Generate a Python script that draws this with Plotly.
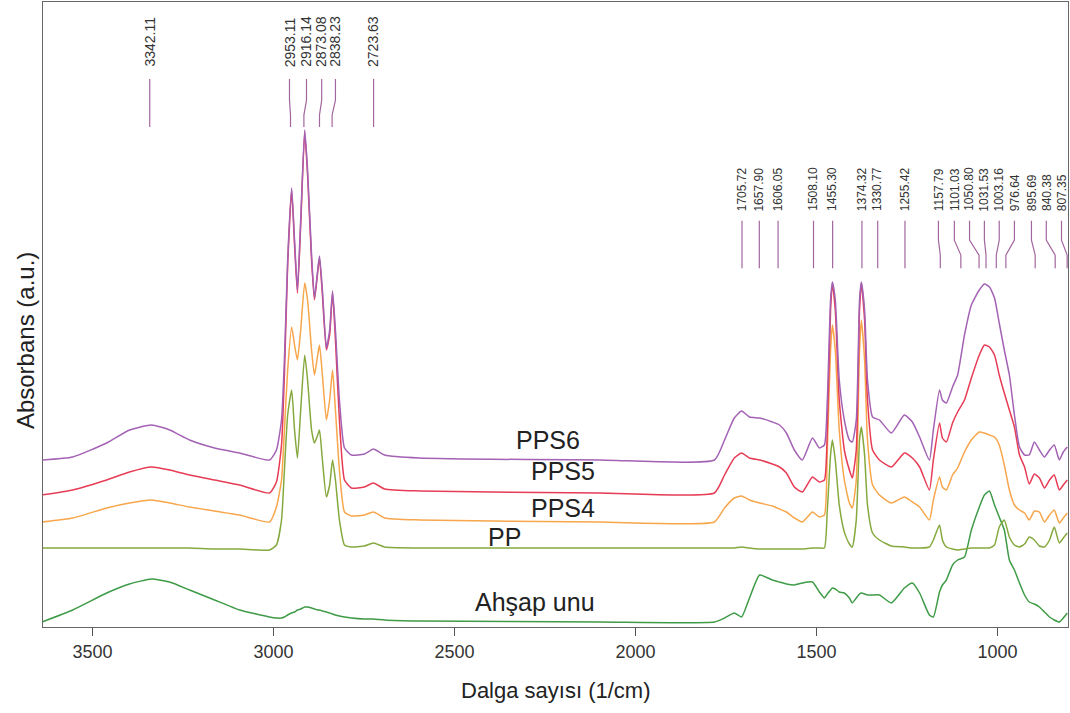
import plotly.graph_objects as go

# ---------------- data (absorbance, arbitrary units, vertically offset spectra) ----------------
WAVENUMBER = [3640, 3555, 3461, 3398, 3337, 3287, 3232, 3163, 3094, 3011, 2992, 2978, 2970, 2961,
              2950, 2942, 2934, 2925, 2914, 2906, 2895, 2887, 2878, 2873, 2865, 2854, 2845, 2837,
              2829, 2818, 2804, 2785, 2749, 2724, 2693, 2597, 2099, 1782, 1754, 1727, 1707, 1685,
              1657, 1622, 1602, 1583, 1561, 1539, 1511, 1492, 1478, 1470, 1461, 1456, 1448, 1437,
              1423, 1409, 1401, 1390, 1381, 1376, 1367, 1359, 1345, 1326, 1293, 1257, 1235, 1215,
              1188, 1177, 1160, 1152, 1141, 1124, 1110, 1091, 1072, 1050, 1036, 1022, 1008, 995,
              981, 967, 953, 939, 925, 912, 898, 884, 870, 856, 843, 829, 818, 807]

PPS6 = [1.67, 1.70, 1.84, 1.97, 2.02, 1.97, 1.87, 1.79, 1.74, 1.67, 1.77, 2.07, 2.67, 3.67,
        4.39, 3.87, 3.37, 4.07, 4.97, 4.57, 3.72, 3.29, 3.57, 3.71, 3.37, 2.79, 2.97, 3.36,
        2.97, 2.27, 1.79, 1.72, 1.73, 1.78, 1.72, 1.69, 1.67, 1.67, 1.87, 2.09, 2.16, 2.10,
        2.09, 2.05, 2.02, 1.94, 1.77, 1.67, 1.89, 1.79, 1.82, 2.27, 3.27, 3.45, 3.27, 2.47,
        2.07, 1.87, 1.85, 2.07, 3.27, 3.45, 3.17, 2.47, 2.10, 2.07, 1.94, 2.12, 2.05, 1.90,
        1.67, 1.97, 2.37, 2.27, 2.24, 2.40, 2.52, 2.92, 3.22, 3.37, 3.43, 3.40, 3.29, 3.04,
        2.77, 2.52, 2.12, 1.80, 1.72, 1.72, 1.85, 1.77, 1.70, 1.77, 1.82, 1.67, 1.75, 1.80]

PPS5 = [1.32, 1.37, 1.47, 1.55, 1.60, 1.57, 1.52, 1.47, 1.42, 1.34, 1.45, 1.82, 2.52, 3.62,
        4.37, 3.82, 3.34, 4.02, 4.95, 4.52, 3.67, 3.27, 3.55, 3.69, 3.32, 2.77, 2.92, 3.34,
        2.87, 2.07, 1.47, 1.39, 1.40, 1.44, 1.38, 1.36, 1.34, 1.34, 1.52, 1.69, 1.74, 1.69,
        1.67, 1.63, 1.60, 1.54, 1.40, 1.35, 1.50, 1.45, 1.47, 1.97, 3.17, 3.44, 3.17, 2.27,
        1.77, 1.57, 1.49, 1.77, 3.17, 3.44, 3.07, 2.27, 1.77, 1.67, 1.60, 1.74, 1.69, 1.60,
        1.37, 1.67, 2.04, 1.89, 1.85, 2.04, 2.15, 2.27, 2.49, 2.72, 2.82, 2.80, 2.72, 2.52,
        2.34, 2.17, 2.00, 1.72, 1.60, 1.43, 1.53, 1.49, 1.39, 1.47, 1.52, 1.37, 1.42, 1.47]

PPS4 = [1.05, 1.09, 1.19, 1.24, 1.27, 1.24, 1.20, 1.16, 1.12, 1.05, 1.20, 1.47, 1.97, 2.57,
        3.00, 2.82, 2.67, 2.97, 3.44, 3.27, 2.77, 2.52, 2.72, 2.82, 2.52, 2.07, 2.27, 2.57,
        2.17, 1.57, 1.15, 1.11, 1.12, 1.15, 1.09, 1.07, 1.05, 1.05, 1.19, 1.29, 1.31, 1.27,
        1.24, 1.21, 1.18, 1.15, 1.09, 1.05, 1.15, 1.10, 1.12, 1.77, 2.77, 3.02, 2.77, 1.97,
        1.47, 1.24, 1.19, 1.47, 2.77, 3.07, 2.67, 1.87, 1.42, 1.32, 1.24, 1.30, 1.25, 1.20,
        1.07, 1.27, 1.50, 1.40, 1.37, 1.52, 1.59, 1.75, 1.87, 1.95, 1.94, 1.92, 1.90, 1.82,
        1.62, 1.37, 1.22, 1.17, 1.14, 1.07, 1.16, 1.15, 1.05, 1.12, 1.17, 1.04, 1.09, 1.14]

PP = [0.79, 0.79, 0.79, 0.79, 0.79, 0.79, 0.79, 0.78, 0.78, 0.77, 0.82, 1.07, 1.57, 2.12,
      2.37, 1.97, 1.69, 2.17, 2.72, 2.47, 1.97, 1.84, 1.92, 1.97, 1.67, 1.30, 1.42, 1.67,
      1.47, 1.07, 0.82, 0.80, 0.81, 0.84, 0.80, 0.79, 0.79, 0.79, 0.79, 0.79, 0.80, 0.79,
      0.78, 0.78, 0.78, 0.78, 0.78, 0.78, 0.79, 0.79, 0.79, 1.17, 1.72, 1.87, 1.67, 1.22,
      0.95, 0.83, 0.80, 1.07, 1.87, 2.00, 1.72, 1.22, 0.94, 0.87, 0.81, 0.80, 0.79, 0.79,
      0.80, 0.87, 1.02, 0.87, 0.80, 0.78, 0.77, 0.78, 0.79, 0.79, 0.79, 0.79, 0.82, 1.00,
      1.07, 0.90, 0.82, 0.80, 0.83, 0.90, 0.87, 0.81, 0.80, 0.87, 1.00, 0.84, 0.89, 0.94]

AHSAP_UNU = [0.05, 0.17, 0.34, 0.43, 0.48, 0.45, 0.37, 0.27, 0.17, 0.10, 0.09, 0.09, 0.10, 0.12,
             0.14, 0.15, 0.17, 0.18, 0.20, 0.20, 0.19, 0.18, 0.17, 0.17, 0.16, 0.15, 0.14, 0.13,
             0.12, 0.11, 0.10, 0.09, 0.08, 0.08, 0.07, 0.06, 0.05, 0.05, 0.09, 0.14, 0.10, 0.29,
             0.52, 0.47, 0.45, 0.43, 0.42, 0.44, 0.45, 0.35, 0.29, 0.33, 0.37, 0.39, 0.38, 0.35,
             0.34, 0.29, 0.24, 0.29, 0.33, 0.34, 0.33, 0.32, 0.32, 0.32, 0.24, 0.39, 0.44, 0.34,
             0.12, 0.10, 0.35, 0.42, 0.47, 0.62, 0.67, 0.70, 0.97, 1.20, 1.32, 1.36, 1.22, 1.10,
             0.97, 0.67, 0.57, 0.44, 0.32, 0.25, 0.23, 0.20, 0.15, 0.10, 0.07, 0.05, 0.09, 0.14]

SERIES_NAMES = ["Ahşap unu", "PP", "PPS4", "PPS5", "PPS6"]

PEAKS_HIGH = [3342.11, 2953.11, 2916.14, 2873.08, 2838.23, 2723.63]
PEAKS_LOW = [1705.72, 1657.90, 1606.05, 1508.10, 1455.30, 1374.32, 1330.77, 1255.42, 1157.79,
             1101.03, 1050.80, 1031.53, 1003.16, 976.64, 895.69, 840.38, 807.35]

X_TICKS = [3500, 3000, 2500, 2000, 1500, 1000]

# ---------------- styling / layout ----------------
FONT = "Liberation Sans, Arial, sans-serif"
COLORS = {"Ahşap unu": "#3f9b47", "PP": "#86a93e", "PPS4": "#f7a64c",
          "PPS5": "#e63c55", "PPS6": "#a462b4"}
# label text positions (wavenumber), spread apart so they don't overlap
LABEL_POS_HIGH = [3342.11, 2956, 2909, 2867, 2829, 2723.63]
LABEL_POS_LOW = [1705.72, 1657.90, 1606.05, 1508.10, 1455.30, 1374.32, 1330.77, 1255.42, 1163,
                 1119, 1077, 1036, 995, 953, 906, 865, 823]

series = {"Ahşap unu": AHSAP_UNU, "PP": PP, "PPS4": PPS4, "PPS5": PPS5, "PPS6": PPS6}

fig = go.Figure()
for name in SERIES_NAMES:
    fig.add_trace(go.Scatter(x=WAVENUMBER, y=series[name], mode="lines", name=name,
                             line=dict(color=COLORS[name], width=1.5, shape="spline", smoothing=0.5),
                             showlegend=False, hoverinfo="x+y+name"))

shapes = []
annotations = []
LINE_COLOR = "#a3679f"


def add_peak_labels(peaks, label_pos, y_text, y_top, y_k1, y_k2, y_bot, size):
    for p, lp in zip(peaks, label_pos):
        path = f"M {lp},{y_top} L {lp},{y_k1} L {p},{y_k2} L {p},{y_bot}"
        shapes.append(dict(type="path", xref="x", yref="paper", path=path,
                           line=dict(color=LINE_COLOR, width=1.2)))
        annotations.append(dict(x=lp, y=y_text, xref="x", yref="paper", text=f"{p:.2f}",
                                showarrow=False, textangle=-90, xanchor="center", yanchor="bottom",
                                font=dict(family=FONT, size=size, color="#333333")))


add_peak_labels(PEAKS_HIGH, LABEL_POS_HIGH, 0.893, 0.877, 0.843, 0.819, 0.80, 14)
add_peak_labels(PEAKS_LOW, LABEL_POS_LOW, 0.662, 0.650, 0.619, 0.595, 0.574, 12)

# curve name labels
CURVE_LABELS = [("PPS6", 2243, 1.87), ("PPS5", 2200, 1.56), ("PPS4", 2200, 1.19),
                ("PP", 2362, 0.90), ("Ahşap unu", 2279, 0.25)]
for txt, xx, yy in CURVE_LABELS:
    annotations.append(dict(x=xx, y=yy, xref="x", yref="y", text=txt, showarrow=False,
                            xanchor="center", yanchor="middle",
                            font=dict(family=FONT, size=25, color="#222222")))

# axis titles
annotations.append(dict(x=0.5, y=-0.101, xref="paper", yref="paper", text="Dalga sayısı (1/cm)",
                        showarrow=False, xanchor="center", yanchor="middle",
                        font=dict(family=FONT, size=22, color="#222222")))
annotations.append(dict(x=-0.0176, y=0.459, xref="paper", yref="paper", text="Absorbans (a.u.)",
                        showarrow=False, textangle=-90, xanchor="center", yanchor="middle",
                        font=dict(family=FONT, size=24, color="#222222")))

fig.update_layout(
    width=1070, height=713,
    margin=dict(l=43, r=2, t=2, b=86),
    paper_bgcolor="white", plot_bgcolor="white",
    shapes=shapes, annotations=annotations,
    xaxis=dict(range=[3637, 805], autorange=False, tickvals=X_TICKS,
               ticktext=[str(t) for t in X_TICKS], ticks="outside", ticklen=8,
               tickcolor="#555555", showgrid=False, zeroline=False,
               showline=True, linecolor="#666666", linewidth=1.2, mirror=True,
               tickfont=dict(family=FONT, size=18, color="#333333")),
    yaxis=dict(range=[0, 6.25], autorange=False, showticklabels=False, ticks="",
               showgrid=False, zeroline=False, showline=True, linecolor="#666666",
               linewidth=1.2, mirror=True),
)

fig.write_html("out.html", config={"displayModeBar": False},
               post_script="document.body.style.margin='0';document.body.style.overflow='hidden';")
